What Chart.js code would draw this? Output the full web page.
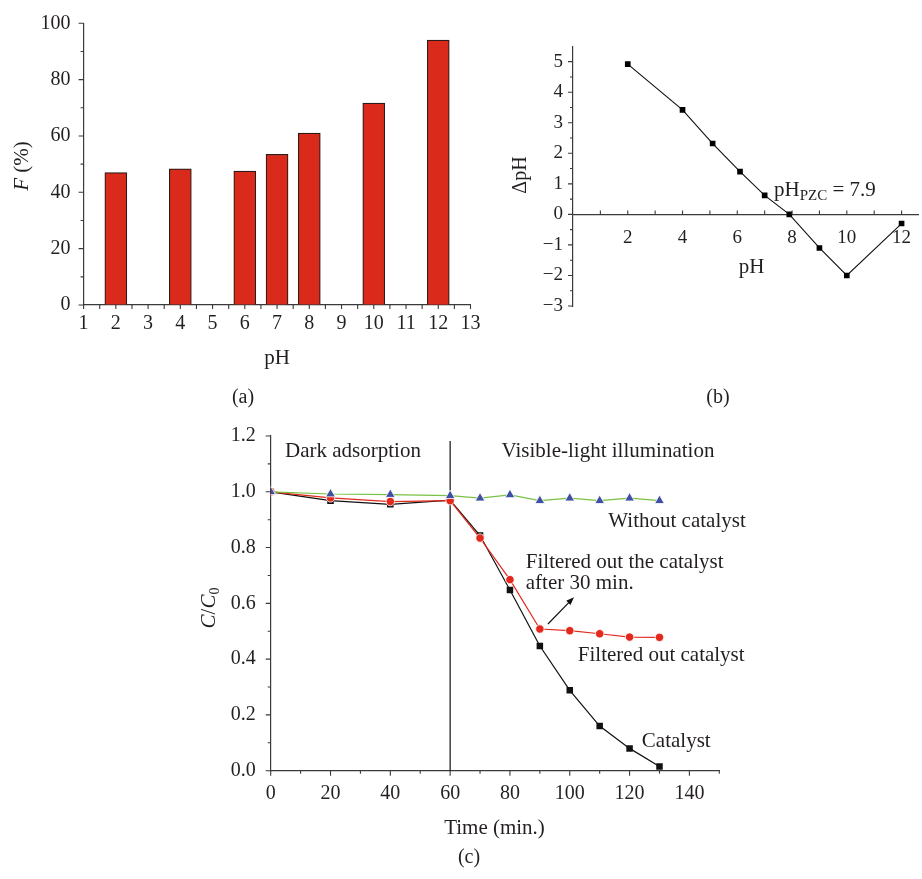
<!DOCTYPE html>
<html>
<head>
<meta charset="utf-8">
<script src="https://cdn.jsdelivr.net/npm/chart.js@4.4.0/dist/chart.umd.min.js"></script>
<style>
  html, body { margin: 0; padding: 0; background: #fff; }
  #wrap { position: relative; width: 922px; height: 879px; overflow: hidden; }
  #wrap canvas { position: absolute; left: 0; top: 0; }
</style>
</head>
<body>
<div id="wrap">
  <canvas id="chart-a" width="922" height="879"></canvas>
  <canvas id="chart-b" width="922" height="879"></canvas>
  <canvas id="chart-c" width="922" height="879"></canvas>
</div>
<script>
// (a) adsorbed fraction F (%) at each pH
const barPh = [2, 4, 6, 7, 8, 10, 12];
const barF = [47, 48.3, 47.5, 53.5, 61, 71.7, 94];
const phTicksA = [1, 2, 3, 4, 5, 6, 7, 8, 9, 10, 11, 12, 13];
const fTicks = [0, 20, 40, 60, 80, 100];

// (b) pH drift: ΔpH against initial pH
const driftPh = [2, 4, 5.1, 6.1, 7, 7.9, 9, 10, 12];
const driftDelta = [4.92, 3.42, 2.32, 1.4, 0.62, 0, -1.1, -2, -0.3];
const phTicksB = [2, 4, 6, 8, 10, 12];
const deltaTicks = [-3, -2, -1, 0, 1, 2, 3, 4, 5];
const pzc = 7.9;

// (c) C/C0 against time
const timeMin = [0, 20, 40, 60, 70, 80, 90, 100, 110, 120, 130];
const catalyst = [1.0, 0.968, 0.955, 0.97, 0.843, 0.648, 0.447, 0.288, 0.16, 0.08, 0.015];
const filteredOut = [1.0, 0.978, 0.965, 0.968, 0.834, 0.685, 0.508, 0.502, 0.491, 0.479, 0.478];
const noCatalyst = [1.0, 0.992, 0.99, 0.986, 0.977, 0.989, 0.968, 0.977, 0.968, 0.977, 0.968];
const timeTicks = [0, 20, 40, 60, 80, 100, 120, 140];
const ratioTicks = [0, 0.2, 0.4, 0.6, 0.8, 1.0, 1.2];
const lightOn = 60;

const FONT = "'Liberation Serif', 'Times New Roman', serif";
const INK = '#231f20';
const AXIS = '#3a3a3a';

Chart.defaults.font.family = FONT;
Chart.defaults.color = INK;

function font(size, italic) {
  return (italic ? 'italic ' : '') + size + 'px ' + FONT;
}

// draw a run of differently styled text pieces (sub/superscripts, italics)
function drawRuns(ctx, runs, x, y, align, rotate) {
  ctx.save();
  ctx.translate(x, y);
  if (rotate) ctx.rotate(rotate);
  ctx.fillStyle = INK;
  ctx.textBaseline = 'alphabetic';
  ctx.textAlign = 'left';
  let total = 0;
  runs.forEach(r => {
    ctx.font = font(r.size, r.italic);
    r.w = ctx.measureText(r.t).width;
    total += r.w;
  });
  let cx = align === 'center' ? -total / 2 : 0;
  runs.forEach(r => {
    ctx.font = font(r.size, r.italic);
    ctx.fillText(r.t, cx, r.dy || 0);
    cx += r.w;
  });
  ctx.restore();
}

// tick marks list from..to with major/minor lengths
function tickMarks(from, to, step, major, majorLen, minorLen) {
  const out = [];
  const n = Math.round((to - from) / step);
  for (let i = 0; i <= n; i++) {
    const v = from + i * step;
    const q = v / major;
    out.push({ v, len: Math.abs(q - Math.round(q)) < 1e-6 ? majorLen : minorLen });
  }
  return out;
}

function drawTickMarks(ctx, scale, marks, base, dir) {
  ctx.save();
  ctx.strokeStyle = AXIS;
  ctx.lineWidth = 1.1;
  ctx.beginPath();
  marks.forEach(m => {
    const p = scale.getPixelForValue(m.v);
    if (scale.isHorizontal()) {
      ctx.moveTo(p, base);
      ctx.lineTo(p, base + dir * m.len);
    } else {
      ctx.moveTo(base, p);
      ctx.lineTo(base + dir * m.len, p);
    }
  });
  ctx.stroke();
  ctx.restore();
}

function axis(o) {
  return {
    type: 'linear',
    min: o.min,
    max: o.max,
    offset: false,
    position: o.position,
    grid: { drawOnChartArea: false, drawTicks: false, offset: false },
    border: { display: true, color: AXIS, width: 1.2 },
    ticks: {
      padding: o.pad,
      color: INK,
      font: { family: FONT, size: o.size },
      autoSkip: false,
      maxRotation: 0,
      callback: o.fmt || (v => (v < 0 ? '\u2212' + Math.abs(v) : String(v)))
    },
    afterBuildTicks: s => { s.ticks = o.values.map(v => ({ value: v })); },
    afterFit: s => {
      if (o.thickness != null) {
        if (s.isHorizontal()) s.height = o.thickness; else s.width = o.thickness;
      }
      s.paddingLeft = s.paddingRight = s.paddingTop = s.paddingBottom = 0;
    }
  };
}

const quiet = { legend: { display: false }, tooltip: { enabled: false } };

// ---------- (a) ----------
new Chart(document.getElementById('chart-a'), {
  type: 'bar',
  data: {
    datasets: [{
      data: barPh.map((x, i) => ({ x, y: barF[i] })),
      backgroundColor: '#d92a1b',
      borderColor: '#2b1a17',
      borderWidth: 1.2,
      barThickness: 22
    }]
  },
  options: {
    responsive: false,
    animation: false,
    layout: { padding: { left: 0, top: 23.3, right: 451.5, bottom: 534 } },
    plugins: quiet,
    scales: {
      x: axis({ min: 1, max: 13, position: 'bottom', values: phTicksA, pad: 7, size: 20, thickness: 40 }),
      y: axis({ min: 0, max: 100, position: 'left', values: fTicks, pad: 13, size: 20, thickness: 83.6 })
    }
  },
  plugins: [{
    id: 'decorA',
    afterDraw(chart) {
      const { ctx, chartArea: a, scales: { x, y } } = chart;
      drawTickMarks(ctx, x, tickMarks(1, 13, 0.5, 1, 4, 4), a.bottom, 1);
      drawTickMarks(ctx, y, tickMarks(0, 100, 10, 20, 5, 3), a.left, -1);
      drawRuns(ctx, [{ t: 'pH', size: 21 }], (a.left + a.right) / 2, a.bottom + 59, 'center');
      drawRuns(ctx, [{ t: 'F', size: 21, italic: true }, { t: ' (%)', size: 21 }], 28, 166, 'center', -Math.PI / 2);
      drawRuns(ctx, [{ t: '(a)', size: 20 }], 243, 403, 'center');
    }
  }]
});

// ---------- (b) ----------
new Chart(document.getElementById('chart-b'), {
  type: 'line',
  data: {
    datasets: [{
      data: driftPh.map((x, i) => ({ x, y: driftDelta[i] })),
      borderColor: '#111',
      borderWidth: 1.1,
      tension: 0,
      pointStyle: 'rect',
      pointRadius: 4,
      pointBackgroundColor: '#000',
      pointBorderWidth: 0
    }]
  },
  options: {
    responsive: false,
    animation: false,
    layout: { padding: { left: 0, top: 46.4, right: 0.3, bottom: 573 } },
    plugins: quiet,
    scales: {
      x: axis({ min: 0, max: 12.6, position: { y: 0 }, values: phTicksB, pad: 12, size: 19 }),
      y: axis({ min: -3, max: 5.5, position: 'left', values: deltaTicks, pad: 10, size: 19, thickness: 573 })
    }
  },
  plugins: [{
    id: 'decorB',
    afterDraw(chart) {
      const { ctx, chartArea: a, scales: { x, y } } = chart;
      const zero = y.getPixelForValue(0);
      drawTickMarks(ctx, x, tickMarks(1, 12, 1, 2, 4, 4), zero, -1);
      drawTickMarks(ctx, y, tickMarks(-3, 5, 0.5, 1, 5, 3), a.left, -1);
      drawRuns(ctx, [{ t: '\u0394pH', size: 20 }], 526, 175, 'center', -Math.PI / 2);
      drawRuns(ctx, [{ t: 'pH', size: 21 }], 751.7, 273, 'center');
      drawRuns(ctx, [
        { t: 'pH', size: 21 },
        { t: 'PZC', size: 15, dy: 4 },
        { t: ' = ' + pzc, size: 21 }
      ], x.getPixelForValue(7.34), y.getPixelForValue(0.6), 'left');
      drawRuns(ctx, [{ t: '(b)', size: 20 }], 718, 403, 'center');
    }
  }]
});

// ---------- (c) ----------
const notesC = [
  { text: 'Dark adsorption', t: 4.8, r: 1.126 },
  { text: 'Visible-light illumination', t: 77.2, r: 1.126 },
  { text: 'Without catalyst', t: 112.9, r: 0.875 },
  { text: 'Filtered out the catalyst', t: 85.3, r: 0.728 },
  { text: 'after 30 min.', t: 85.3, r: 0.65 },
  { text: 'Filtered out catalyst', t: 102.7, r: 0.394 },
  { text: 'Catalyst', t: 124.1, r: 0.086 }
];
const arrowFrom = [92.7, 0.526];
const arrowTo = [101.4, 0.622];

function series(values, color, style, radius, line) {
  return {
    data: timeMin.map((t, i) => ({ x: t, y: values[i] })),
    borderColor: line,
    borderWidth: 1.2,
    tension: 0,
    pointStyle: style,
    pointRadius: radius,
    pointBackgroundColor: color,
    pointBorderColor: '#fff',
    pointBorderWidth: style === 'rect' ? 0 : 0.8
  };
}

new Chart(document.getElementById('chart-c'), {
  type: 'line',
  data: {
    datasets: [
      series(noCatalyst, '#3f4fa3', 'triangle', 5.6, '#78c143'),
      series(filteredOut, '#e3291c', 'circle', 4.2, '#e3291c'),
      series(catalyst, '#111', 'rect', 4.6, '#111')
    ]
  },
  options: {
    responsive: false,
    animation: false,
    layout: { padding: { left: 0, top: 436, right: 202.7, bottom: 68.3 } },
    plugins: quiet,
    scales: {
      x: axis({ min: 0, max: 150, position: 'bottom', values: timeTicks, pad: 11, size: 20, thickness: 40 }),
      y: axis({ min: 0, max: 1.2, position: 'left', values: ratioTicks, pad: 15, size: 20, thickness: 270.7,
                fmt: v => v.toFixed(1) })
    }
  },
  plugins: [{
    id: 'decorC',
    beforeDatasetsDraw(chart) {
      const { ctx, chartArea: a, scales: { x } } = chart;
      const px = x.getPixelForValue(lightOn);
      ctx.save();
      ctx.strokeStyle = '#111';
      ctx.lineWidth = 1.2;
      ctx.beginPath();
      ctx.moveTo(px, a.top + 5);
      ctx.lineTo(px, a.bottom);
      ctx.stroke();
      ctx.restore();
    },
    afterDraw(chart) {
      const { ctx, chartArea: a, scales: { x, y } } = chart;
      drawTickMarks(ctx, x, tickMarks(0, 150, 10, 20, 5, 3), a.bottom, 1);
      drawTickMarks(ctx, y, tickMarks(0, 1.2, 0.1, 0.2, 5, 3), a.left, -1);

      notesC.forEach(n => {
        drawRuns(ctx, [{ t: n.text, size: 21 }], x.getPixelForValue(n.t), y.getPixelForValue(n.r), 'left');
      });

      // arrow pointing at the filtration note
      const x0 = x.getPixelForValue(arrowFrom[0]), y0 = y.getPixelForValue(arrowFrom[1]);
      const x1 = x.getPixelForValue(arrowTo[0]), y1 = y.getPixelForValue(arrowTo[1]);
      const ang = Math.atan2(y1 - y0, x1 - x0);
      ctx.save();
      ctx.strokeStyle = '#111';
      ctx.fillStyle = '#111';
      ctx.lineWidth = 1.2;
      ctx.beginPath();
      ctx.moveTo(x0, y0);
      ctx.lineTo(x1 - Math.cos(ang) * 5, y1 - Math.sin(ang) * 5);
      ctx.stroke();
      ctx.beginPath();
      ctx.moveTo(x1, y1);
      ctx.lineTo(x1 - Math.cos(ang) * 8 + Math.sin(ang) * 3, y1 - Math.sin(ang) * 8 - Math.cos(ang) * 3);
      ctx.lineTo(x1 - Math.cos(ang) * 8 - Math.sin(ang) * 3, y1 - Math.sin(ang) * 8 + Math.cos(ang) * 3);
      ctx.closePath();
      ctx.fill();
      ctx.restore();

      drawRuns(ctx, [{ t: 'Time (min.)', size: 21 }], (a.left + a.right) / 2 - 0.5, 834, 'center');
      drawRuns(ctx, [
        { t: 'C', size: 21, italic: true },
        { t: '/', size: 21 },
        { t: 'C', size: 21, italic: true },
        { t: '0', size: 14, dy: 4 }
      ], 215, 608, 'center', -Math.PI / 2);
      drawRuns(ctx, [{ t: '(c)', size: 20 }], 469, 863, 'center');
    }
  }]
});
</script>
</body>
</html>
